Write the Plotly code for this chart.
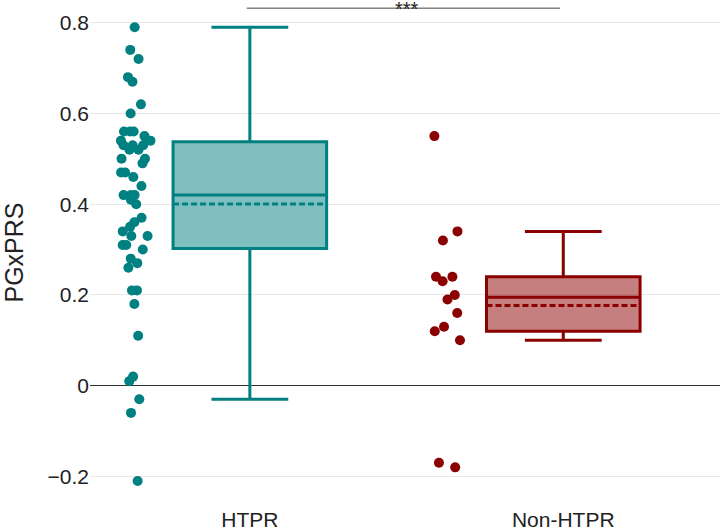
import plotly.graph_objects as go

categories = ["HTPR", "Non-HTPR"]

htpr_values = [
    0.79, 0.74, 0.72, 0.68, 0.67, 0.62, 0.60,
    0.56, 0.56, 0.56, 0.55, 0.54, 0.54, 0.53, 0.53, 0.53, 0.52, 0.52,
    0.50, 0.50, 0.49, 0.47, 0.47, 0.46, 0.44,
    0.42, 0.42, 0.42, 0.41, 0.40,
    0.37, 0.36, 0.35, 0.34, 0.33, 0.33, 0.31,
    0.31, 0.30, 0.28, 0.27, 0.26,
    0.21, 0.21, 0.18, 0.11, 0.02, 0.01, -0.03, -0.06, -0.21,
]

non_htpr_values = [
    0.55, 0.34, 0.32, 0.24, 0.24, 0.23, 0.20,
    0.19, 0.16, 0.13, 0.12, 0.10, -0.17, -0.18,
]

y_ticks = [-0.2, 0, 0.2, 0.4, 0.6, 0.8]
y_tick_text = ["\u22120.2", "0", "0.2", "0.4", "0.6", "0.8"]

significance = "***"

colors = ["#008080", "#8B0000"]
fills = ["rgba(0,128,128,0.5)", "rgba(139,0,0,0.5)"]

FONT = "Liberation Sans, Arial, sans-serif"

fig = go.Figure()
for name, vals, c, f in zip(categories, [htpr_values, non_htpr_values], colors, fills):
    fig.add_trace(go.Box(
        y=vals,
        x=[name] * len(vals),
        name=name,
        boxpoints="all",
        jitter=0.3,
        pointpos=-1.5,
        boxmean=True,
        width=0.49,
        whiskerwidth=0.5,
        fillcolor=f,
        line=dict(color=c, width=3),
        marker=dict(color=c, size=10),
        showlegend=False,
    ))

fig.add_shape(type="line", x0=-0.01, x1=0.99, y0=0.832, y1=0.832, xref="x", yref="y",
              line=dict(color="#444444", width=1))
fig.add_annotation(x=0.5, y=0.832, xref="x", yref="y", text=significance,
                   showarrow=False, yanchor="middle", yshift=-1,
                   font=dict(family=FONT, size=20, color="#222222"))

fig.update_layout(
    width=720, height=530,
    margin=dict(l=90, r=0, t=0, b=25),
    paper_bgcolor="white", plot_bgcolor="white",
    font=dict(family=FONT, color="#222222"),
    xaxis=dict(
        type="category",
        range=[-0.51, 1.5],
        automargin=False,
        showgrid=False, zeroline=False, showline=False,
        tickfont=dict(size=21, family=FONT, color="#222222"),
    ),
    yaxis=dict(
        range=[-0.263, 0.85],
        automargin=False,
        tickvals=y_ticks, ticktext=y_tick_text,
        showgrid=True, gridcolor="#e8e8e8", gridwidth=1,
        zeroline=True, zerolinecolor="#333333", zerolinewidth=1,
        showline=False,
        tickfont=dict(size=21, family=FONT, color="#222222"),
        title=dict(text="PGxPRS", standoff=24,
                   font=dict(size=25, family=FONT, color="#222222")),
    ),
)

fig.write_html("out.html", config={"displayModeBar": False},
               post_script="document.body.style.margin='0';")
